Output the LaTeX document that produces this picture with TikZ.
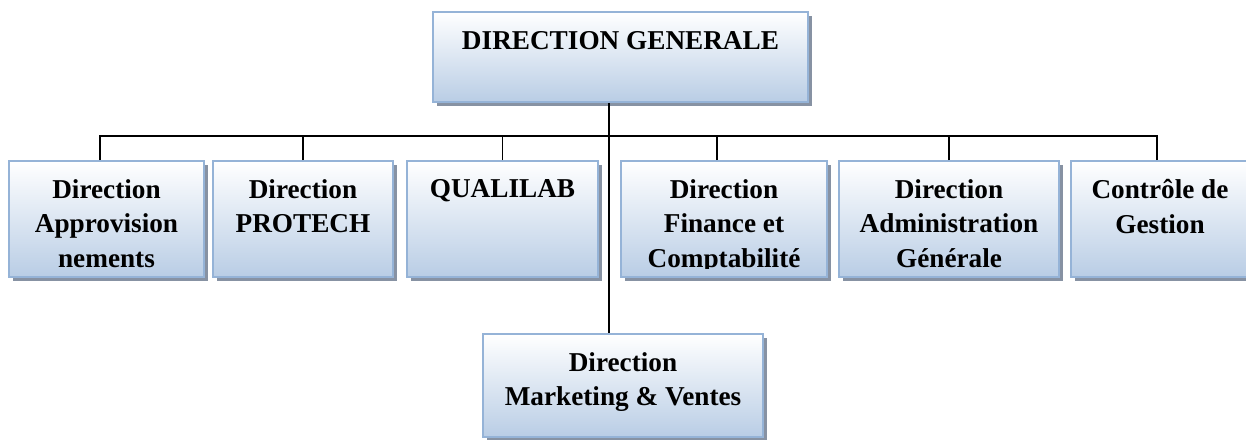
\documentclass[tikz,border=0pt]{standalone}
\usepackage{fontspec}
\setmainfont{Liberation Serif}
\usepackage{tikz}
\usetikzlibrary{positioning, shadows}

\definecolor{boxblue}{RGB}{185,205,229}
\definecolor{boxmid}{RGB}{228,236,245}
\definecolor{boxline}{RGB}{149,179,215}
\definecolor{boxshadow}{RGB}{135,146,163}

\tikzset{
  orgbox/.style={rectangle, draw=boxline, line width=1.1pt,
    top color=white, middle color=boxmid, bottom color=boxblue,
    general shadow={fill=boxshadow, shadow xshift=0.08cm, shadow yshift=-0.08cm}},
  orgtext/.style={inner sep=0pt, align=center,
    font=\fontsize{15.5}{19.6}\selectfont\bfseries},
  link/.style={line width=0.8pt, black}
}

\begin{document}
\begin{tikzpicture}[x=0.02cm, y=-0.02cm]
\useasboundingbox (0,0) rectangle (1246,439);

% boxes
\node[orgbox, minimum width=7.5cm, minimum height=1.8cm] (gen) at (620.5,57) {};
\node[orgbox, minimum width=3.9cm, minimum height=2.32cm] (appro) at (106.5,219) {};
\node[orgbox, minimum width=3.6cm, minimum height=2.32cm] (protech) at (303,219) {};
\node[orgbox, minimum width=3.82cm, minimum height=2.32cm] (quali) at (502.5,219) {};
\node[orgbox, minimum width=4.12cm, minimum height=2.32cm] (finance) at (724,219) {};
\node[orgbox, minimum width=4.4cm, minimum height=2.32cm] (admin) at (949,219) {};
\node[orgbox, minimum width=3.56cm, minimum height=2.32cm] (cdg) at (1160,219) {};
\node[orgbox, minimum width=5.6cm, minimum height=2.06cm] (mkt) at (623,385.5) {};

% labels
\node[orgtext, below=0.4cm of gen.north] (genT) {DIRECTION GENERALE};
\node[orgtext, below=0.38cm of appro.north] (approT) {Direction\\Approvision\\nements};
\node[orgtext, below=0.38cm of protech.north] (protechT) {Direction\\PROTECH};
\node[orgtext, below=0.38cm of quali.north] (qualiT) {QUALILAB};
\begin{scope}
  \clip (finance.north west) rectangle ([yshift=0.19cm]finance.south east);
  \node[orgtext, below=0.38cm of finance.north] (financeT) {Direction\\Finance et\\Comptabilité};
\end{scope}
\node[orgtext, below=0.38cm of admin.north] (adminT) {Direction\\Administration\\Générale};
\node[orgtext, below=0.38cm of cdg.north] (cdgT) {Contrôle de\\Gestion};
\node[orgtext, below=0.38cm of mkt.north] (mktT) {Direction\\Marketing \& Ventes};

% links
\coordinate (bus) at (609,136);
\draw[link] (gen.south -| bus) -- (mkt.north -| bus);
\draw[link] ([xshift=-0.13cm]appro.north) |- (bus);
\draw[link] (protech.north) |- (bus);
\draw[link] (quali.north) |- (bus);
\draw[link] ([xshift=-0.14cm]finance.north) |- (bus);
\draw[link] (admin.north) |- (bus);
\draw[link] ([xshift=-0.06cm]cdg.north) |- (bus);
\end{tikzpicture}
\end{document}
